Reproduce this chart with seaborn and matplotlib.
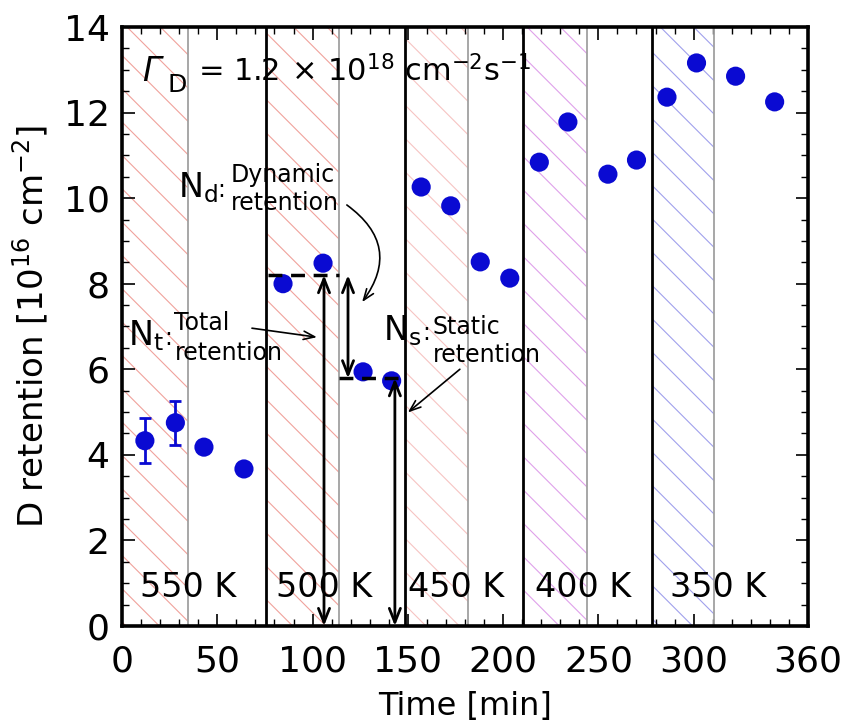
import matplotlib
matplotlib.use("Agg")
import matplotlib.pyplot as plt
from matplotlib.ticker import MultipleLocator
import seaborn as sns

# Measured D retention after each exposure step
time_min = [12, 28, 43, 64, 84.5, 105.5, 126.5, 141.5, 157, 172.5, 188, 203.5,
            219, 234, 255, 270, 286, 301.5, 322, 342.5]
d_retention = [4.33, 4.75, 4.18, 3.67, 8.0, 8.48, 5.94, 5.73, 10.26, 9.82, 8.51, 8.13,
               10.84, 11.78, 10.56, 10.89, 12.36, 13.16, 12.85, 12.25]

# Points with repeated measurements (error bars)
err_time = [12, 28]
err_value = [4.33, 4.75]
err_size = [0.53, 0.52]

# Temperature stages: plasma-on (hatched) then plasma-off interval
temp_labels = ["550 K", "500 K", "450 K", "400 K", "350 K"]
stage_start = [0, 75.5, 148.5, 210.5, 278]
plasma_end = [34.6, 114, 181.5, 244, 310.6]
hatch_colors = ["#f0a29c", "#f0a29c", "#f6c4c2", "#dfa0ea", "#a0a0ec"]

# Retention levels used to define total / static / dynamic retention
total_ret = 8.2
static_ret = 5.79

sns.set_style("ticks")
plt.rcParams["font.family"] = ["DejaVu Sans"]
plt.rcParams["mathtext.fontset"] = "dejavusans"
plt.rcParams["hatch.linewidth"] = 0.8
for key in ("text.color", "axes.labelcolor", "xtick.color", "ytick.color"):
    plt.rcParams[key] = "black"

fig = plt.figure(figsize=(8.45, 7.22), dpi=100)
ax = fig.add_axes([0.1444, 0.133, 0.8118, 0.8296])

# Stage shading and separators
for start, pend, col in zip(stage_start, plasma_end, hatch_colors):
    ax.axvspan(start, pend, facecolor="none", edgecolor=col, hatch="\\",
               linewidth=0, zorder=0)
    ax.axvline(pend, color="#a0a0a0", lw=1.3, zorder=1)
    if start > 0:
        ax.axvline(start, color="black", lw=2.0, zorder=1)

# Data
ax.errorbar(err_time, err_value, yerr=err_size, fmt="none", ecolor="#0a0ad2",
            elinewidth=2, capsize=4.5, capthick=2, zorder=4)
sns.scatterplot(x=time_min, y=d_retention, color="#0a0ad2", s=190,
                edgecolor="none", linewidth=0, zorder=5, ax=ax)

# Retention level markers
ax.plot([76.6, 114], [total_ret, total_ret], color="black", lw=2.5,
        ls=(0, (4, 2.5)), zorder=6)
ax.plot([114, 146], [static_ret, static_ret], color="black", lw=2.5,
        ls=(0, (4, 2.5)), zorder=6)

dbl = dict(arrowstyle="<->,head_length=1.0,head_width=0.4", lw=2,
           color="black", shrinkA=0, shrinkB=0)
ax.annotate("", xy=(106, total_ret), xytext=(106, 0), arrowprops=dbl, zorder=7)
ax.annotate("", xy=(143.2, static_ret), xytext=(143.2, 0), arrowprops=dbl, zorder=7)
ax.annotate("", xy=(118.6, static_ret), xytext=(118.6, total_ret), arrowprops=dbl, zorder=7)

thin = dict(arrowstyle="->,head_length=0.8,head_width=0.3", lw=1.2,
            color="black", shrinkA=0, shrinkB=0)
ax.annotate("", xy=(126, 7.57), xytext=(118, 9.84),
            arrowprops=dict(thin, connectionstyle="arc3,rad=-0.5"), zorder=7)
ax.annotate("", xy=(102.3, 6.75), xytext=(68.2, 6.96), arrowprops=thin, zorder=7)
ax.annotate("", xy=(150, 4.99), xytext=(177.3, 6.0), arrowprops=thin, zorder=7)

# Labels for N_d, N_t, N_s
big, small = 24, 17
ax.text(29.4, 10.03, r"N$_{\mathrm{d}}$", fontsize=big, va="baseline")
ax.text(49.8, 10.03, ":", fontsize=small, va="baseline")
ax.text(57.0, 10.38, "Dynamic", fontsize=small, va="baseline")
ax.text(57.0, 9.72, "retention", fontsize=small, va="baseline")

ax.text(3.1, 6.57, r"N$_{\mathrm{t}}$", fontsize=big, va="baseline")
ax.text(22.0, 6.57, ":", fontsize=small, va="baseline")
ax.text(27.5, 6.92, "Total", fontsize=small, va="baseline")
ax.text(27.5, 6.22, "retention", fontsize=small, va="baseline")

ax.text(137, 6.68, r"N$_{\mathrm{s}}$", fontsize=big, va="baseline")
ax.text(157.4, 6.68, ":", fontsize=small, va="baseline")
ax.text(162.9, 6.82, "Static", fontsize=small, va="baseline")
ax.text(162.9, 6.17, "retention", fontsize=small, va="baseline")

# Flux annotation
ax.text(10.5, 12.74, "\u0393", fontsize=24, style="italic", va="baseline")
ax.text(24.1, 12.48, "D", fontsize=18, va="baseline")
ax.text(39.9, 12.74,
        r"= 1.2$\,\times\,$10$^{18}$ cm$^{-2}$s$^{-1}$",
        fontsize=22, va="baseline")

# Temperature labels
label_x = [9.4, 81, 150, 216.5, 287.5]
for xt, lab in zip(label_x, temp_labels):
    ax.text(xt, 0.9, lab, fontsize=24, va="center", ha="left", zorder=3)

ax.set_xlim(0, 360)
ax.set_ylim(0, 14)
ax.set_xticks([0, 50, 100, 150, 200, 250, 300, 360])
ax.xaxis.set_minor_locator(MultipleLocator(10))
ax.yaxis.set_major_locator(MultipleLocator(2))
ax.yaxis.set_minor_locator(MultipleLocator(0.5))
ax.tick_params(which="both", direction="in", top=True, right=True, color="black")
ax.tick_params(which="major", length=9, width=1.2, labelsize=26)
ax.tick_params(which="minor", length=5, width=1.0)
ax.tick_params(axis="x", which="major", pad=13)
ax.tick_params(axis="y", which="major", pad=9)
for sp in ax.spines.values():
    sp.set_linewidth(2.6)
    sp.set_color("black")
    sp.set_zorder(8)

ax.set_xlabel("Time [min]", fontsize=23, labelpad=9)
ax.set_ylabel(r"D retention [10$^{16}$ cm$^{-2}$]", fontsize=24.5, labelpad=10)

fig.savefig("out.png", dpi=100)
